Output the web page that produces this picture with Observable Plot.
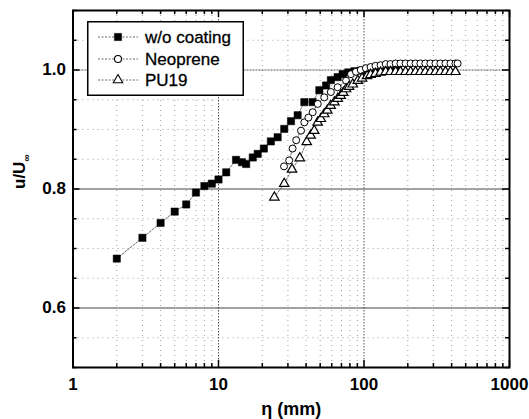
<!DOCTYPE html>
<html>
<head>
<meta charset="utf-8">
<script src="https://cdn.jsdelivr.net/npm/d3@7"></script>
<script src="https://cdn.jsdelivr.net/npm/@observablehq/plot@0.6"></script>
<style>
  body { margin: 0; background: white; }
  #wrap { position: relative; width: 529px; height: 419px; }
</style>
</head>
<body>
<div id="wrap"></div>
<script>
// ---- data ----
const seriesNames = ["w/o coating", "Neoprene", "PU19"];

const woX = [2, 3, 4, 5, 6, 7, 8, 9, 10, 11.3, 13.2, 14.5, 15.5, 17.2, 18.6, 20.5, 22.9, 25.5, 28.3, 31.5, 35, 38.9, 44.4, 49.3, 54.9, 59.2, 65.9, 71.3, 78, 86, 95, 105, 115, 127, 140, 155, 170];
const woY = [0.683, 0.718, 0.743, 0.762, 0.774, 0.794, 0.805, 0.809, 0.816, 0.828, 0.849, 0.845, 0.842, 0.853, 0.859, 0.868, 0.880, 0.887, 0.901, 0.914, 0.924, 0.946, 0.946, 0.966, 0.974, 0.983, 0.988, 0.993, 0.996, 0.998, 0.999, 1.0, 1.0, 1.0, 1.0, 1.0, 1.0];

const neoX = [28.2, 30.6, 32.3, 34.2, 36.9, 38.9, 41.5, 44.4, 48.1, 53.3, 59.2, 65.9, 75.3, 81.4, 88, 95, 103, 111, 120, 130, 141, 152, 165, 178, 193, 209, 226, 244, 264, 286, 310, 335, 363, 393, 425, 440];
const neoY = [0.838, 0.848, 0.868, 0.882, 0.898, 0.912, 0.920, 0.929, 0.943, 0.954, 0.963, 0.971, 0.982, 0.993, 0.997, 1.0, 1.003, 1.005, 1.007, 1.008, 1.010, 1.010, 1.011, 1.011, 1.011, 1.011, 1.011, 1.011, 1.011, 1.011, 1.011, 1.011, 1.011, 1.011, 1.011, 1.011];

const puX = [24.2, 28.3, 32, 36.2, 40.4, 43, 45.5, 48, 50.5, 53.3, 56, 59, 62.6, 66, 69.1, 72, 75.3, 79, 83.7, 90.6, 97, 105, 111, 120, 130, 141, 152, 165, 178, 193, 209, 226, 244, 264, 286, 310, 335, 363, 393, 425];
const puY = [0.786, 0.809, 0.833, 0.852, 0.879, 0.890, 0.898, 0.912, 0.918, 0.926, 0.932, 0.940, 0.946, 0.952, 0.957, 0.962, 0.968, 0.972, 0.976, 0.982, 0.986, 0.990, 0.992, 0.994, 0.996, 0.997, 0.997, 0.997, 0.997, 0.997, 0.997, 0.997, 0.997, 0.997, 0.997, 0.997, 0.997, 0.997, 0.997, 0.997];

const xMajor = [1, 10, 100, 1000];
const xMinor = [2,3,4,5,6,7,8,9,20,30,40,50,60,70,80,90,200,300,400,500,600,700,800,900];
const yMajor = [0.6, 0.8, 1.0];
const yMinor = [0.5, 0.55, 0.65, 0.7, 0.75, 0.85, 0.9, 0.95, 1.05, 1.1];
const xTickLabels = ["1", "10", "100", "1000"];
const yTickLabels = ["0.6", "0.8", "1.0"];
const xLabel = "η (mm)";
const yLabel = "u/U∞";

// ---- build tables ----
const toRows = (xs, ys) => xs.map((x, i) => ({x, y: ys[i]}));
const wo = toRows(woX, woY);
const neo = toRows(neoX, neoY);
const pu = toRows(puX, puY);
const xTicks = xMajor.map((v, i) => ({v, label: xTickLabels[i]}));
const yTicks = yMajor.map((v, i) => ({v, label: yTickLabels[i]}));

const W = 529, H = 419, mT = 10, mB = 52, mL = 72.5, mR = 20;
const innerH = H - mT - mB, innerW = W - mL - mR;
const font = "'Liberation Sans', Arial, sans-serif";

const lineStyle = {x: "x", y: "y", stroke: "#444", strokeWidth: 0.8, strokeDasharray: "2,1.5"};

const chart = Plot.plot({
  width: W, height: H,
  marginTop: mT, marginBottom: mB, marginLeft: mL, marginRight: mR,
  x: {type: "log", domain: [1, 1000], axis: null},
  y: {domain: [0.5, 1.1], axis: null},
  style: {fontFamily: font, background: "white", color: "black"},
  marks: [
    // grid
    Plot.ruleX(xMinor, {stroke: "#888", strokeWidth: 0.8, strokeDasharray: "1,4"}),
    Plot.ruleY(yMinor, {stroke: "#888", strokeWidth: 0.8, strokeDasharray: "1,4"}),
    Plot.ruleX([10, 100], {stroke: "#555", strokeWidth: 1, strokeDasharray: "1.5,1.5"}),
    Plot.ruleY([0.6, 0.8], {stroke: "#444", strokeWidth: 1}),
    Plot.ruleY([1.0], {stroke: "#555", strokeWidth: 1, strokeDasharray: "2,1"}),
    // series lines
    Plot.line(wo, lineStyle),
    Plot.line(neo, lineStyle),
    Plot.line(pu, lineStyle),
    // markers
    Plot.dot(wo, {x: "x", y: "y", symbol: "square", r: 4.1, fill: "black", stroke: "black", strokeWidth: 0.5}),
    Plot.dot(neo, {x: "x", y: "y", symbol: "circle", r: 3.5, fill: "white", stroke: "black", strokeWidth: 1}),
    Plot.dot(pu, {x: "x", y: "y", symbol: "triangle", r: 3.5, fill: "white", stroke: "black", strokeWidth: 1.2}),
    // inward ticks, bottom & top
    Plot.tickX(xMajor, {x: d => d, insetTop: innerH - 7, stroke: "black", strokeWidth: 1.5}),
    Plot.tickX(xMajor, {x: d => d, insetBottom: innerH - 7, stroke: "black", strokeWidth: 1.5}),
    Plot.tickX(xMinor, {x: d => d, insetTop: innerH - 4, stroke: "black", strokeWidth: 1.5}),
    Plot.tickX(xMinor, {x: d => d, insetBottom: innerH - 4, stroke: "black", strokeWidth: 1.5}),
    // inward ticks, left & right
    Plot.tickY(yMajor, {y: d => d, insetRight: innerW - 7, stroke: "black", strokeWidth: 1.5}),
    Plot.tickY(yMajor, {y: d => d, insetLeft: innerW - 7, stroke: "black", strokeWidth: 1.5}),
    Plot.tickY(yMinor, {y: d => d, insetRight: innerW - 4, stroke: "black", strokeWidth: 1.5}),
    Plot.tickY(yMinor, {y: d => d, insetLeft: innerW - 4, stroke: "black", strokeWidth: 1.5}),
    Plot.frame({stroke: "black", strokeWidth: 2}),
    // tick labels
    Plot.text(xTicks, {x: "v", text: "label", frameAnchor: "bottom", dy: 17, fontSize: 17, fontWeight: "bold", lineAnchor: "middle"}),
    Plot.text(yTicks, {y: "v", text: "label", frameAnchor: "left", dx: -7, textAnchor: "end", fontSize: 17, fontWeight: "bold"}),
    // axis titles
    Plot.text([xLabel], {frameAnchor: "bottom", dy: 42, fontSize: 18, fontWeight: "bold", lineAnchor: "middle"}),
    Plot.text([yLabel], {frameAnchor: "left", dx: -53, rotate: -90, fontSize: 17, fontWeight: "bold", lineAnchor: "middle"})
  ]
});

// make ∞ a subscript in the y label
chart.querySelectorAll("text").forEach(t => {
  if (t.textContent === yLabel) {
    while (t.firstChild) t.removeChild(t.firstChild);
    const ns = "http://www.w3.org/2000/svg";
    const a = document.createElementNS(ns, "tspan");
    a.textContent = "u/U";
    const b = document.createElementNS(ns, "tspan");
    b.textContent = "∞";
    b.setAttribute("font-size", "10");
    b.setAttribute("dy", "0.45em");
    t.appendChild(a); t.appendChild(b);
  }
});

const wrap = document.getElementById("wrap");
wrap.appendChild(chart);

// ---- legend (inside the plot, upper left) ----
const lw = 157, lh = 75;
const leg = d3.create("svg").attr("width", lw).attr("height", lh)
  .style("position", "absolute").style("left", "87px").style("top", "21px");
leg.append("rect").attr("x", 0.75).attr("y", 0.75).attr("width", lw - 1.5).attr("height", lh - 1.5)
  .attr("fill", "white").attr("stroke", "black").attr("stroke-width", 1.5);
const rows = [16, 38, 59];
const symbols = [d3.symbolSquare, d3.symbolCircle, d3.symbolTriangle];
const fills = ["black", "white", "white"];
const sizes = [Math.PI * 4.1 * 4.1, Math.PI * 3.5 * 3.5, Math.PI * 3.5 * 3.5];
seriesNames.forEach((name, i) => {
  const g = leg.append("g").attr("transform", `translate(0,${rows[i]})`);
  g.append("line").attr("x1", 11).attr("x2", 51).attr("y1", 0).attr("y2", 0)
    .attr("stroke", "#444").attr("stroke-width", 0.8).attr("stroke-dasharray", "2,1.5");
  g.append("path").attr("d", d3.symbol(symbols[i], sizes[i])()).attr("transform", "translate(31,0)")
    .attr("fill", fills[i]).attr("stroke", "black").attr("stroke-width", i === 0 ? 0.5 : 1.1);
  g.append("text").attr("x", 58).attr("y", 0).attr("dy", "0.36em")
    .attr("font-family", font).attr("font-size", 17).attr("fill", "black")
    .attr("stroke", "black").attr("stroke-width", 0.3).text(name);
});
wrap.appendChild(leg.node());
</script>
</body>
</html>
